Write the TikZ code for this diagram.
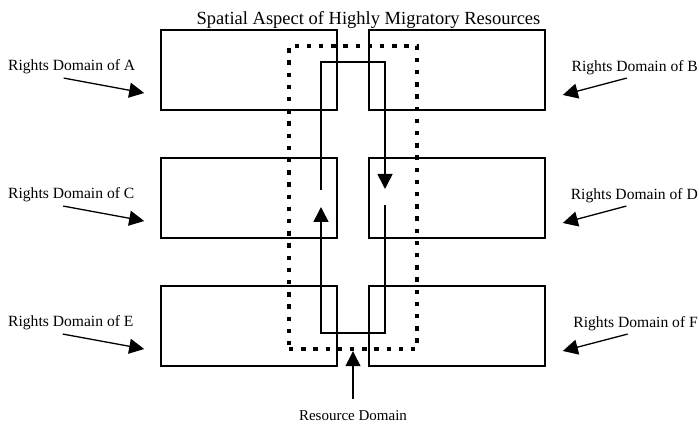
\documentclass[tikz,border=0pt]{standalone}
\usepackage{fontspec}
\setmainfont{Liberation Serif}
\usetikzlibrary{arrows.meta}

\begin{document}
\begin{tikzpicture}[x=1pt, y=-1pt,
      domainbox/.style={draw, line width=1.6pt, minimum width=176pt,
        minimum height=80pt, inner sep=0pt},
      rlabel/.style={font=\fontsize{15.6}{19}\selectfont, inner sep=0pt},
      pointer/.style={-{Triangle[length=15pt, width=15pt]}, line width=1.3pt},
      flow/.style={-{Triangle[length=15pt, width=15pt]}, line width=1.6pt},
      resbox/.style={draw, line width=4.4pt, dash pattern=on 4.4pt off 7.8pt,
        minimum width=128pt, minimum height=303pt, inner sep=0pt},
    ]
    \useasboundingbox (0,0) rectangle (699,427);

    % Title
    \node[font=\fontsize{18.5}{22}\selectfont, anchor=base] (title) at (368.5,25)
      {Spatial Aspect of Highly Migratory Resources};

    % Rights domains
    \node[domainbox] (A) at (249,70) {};
    \node[domainbox] (B) at (457,70) {};
    \node[domainbox] (C) at (249,198) {};
    \node[domainbox] (D) at (457,198) {};
    \node[domainbox] (E) at (249,326) {};
    \node[domainbox] (F) at (457,326) {};

    % Resource domain
    \node[resbox] (resource) at (353,197.5) {};

    % Migration route
    \draw[flow] (321,190) -- (321,62) -- (385,62) -- (385,189);
    \draw[flow] (385,205) -- (385,333) -- (321,333) -- (321,207);

    % Labels on the left
    \node[rlabel, anchor=base west] (labA) at (8,71) {Rights Domain of A};
    \node[rlabel, anchor=base west] (labC) at (8,199) {Rights Domain of C};
    \node[rlabel, anchor=base west] (labE) at (8,327) {Rights Domain of E};
    \draw[pointer] ([xshift=-8pt, yshift=-3.5pt]labA.south)
      -- ([xshift=-16pt, yshift=-23pt]A.west);
    \draw[pointer] ([xshift=-8pt, yshift=-3.5pt]labC.south)
      -- ([xshift=-16pt, yshift=-23pt]C.west);
    \draw[pointer] ([xshift=-8pt, yshift=-3.5pt]labE.south)
      -- ([xshift=-16pt, yshift=-23pt]E.west);

    % Labels on the right
    \node[rlabel, anchor=base east] (labB) at (698,72) {Rights Domain of B};
    \node[rlabel, anchor=base east] (labD) at (698,200) {Rights Domain of D};
    \node[rlabel, anchor=base east] (labF) at (698,328) {Rights Domain of F};
    \draw[pointer] ([xshift=-8pt, yshift=-2.5pt]labB.south)
      -- ([xshift=17pt, yshift=-25pt]B.east);
    \draw[pointer] ([xshift=-8pt, yshift=-2.5pt]labD.south)
      -- ([xshift=17pt, yshift=-25pt]D.east);
    \draw[pointer] ([xshift=-8pt, yshift=-2.5pt]labF.south)
      -- ([xshift=17pt, yshift=-25pt]F.east);

    % Resource domain label
    \node[font=\fontsize{15}{18}\selectfont, inner sep=0pt, anchor=base]
      (resLabel) at (353,421) {Resource Domain};
    \draw[pointer, shorten <=12pt] (resLabel.north) -- (resource.south);
  \end{tikzpicture}
\end{document}
